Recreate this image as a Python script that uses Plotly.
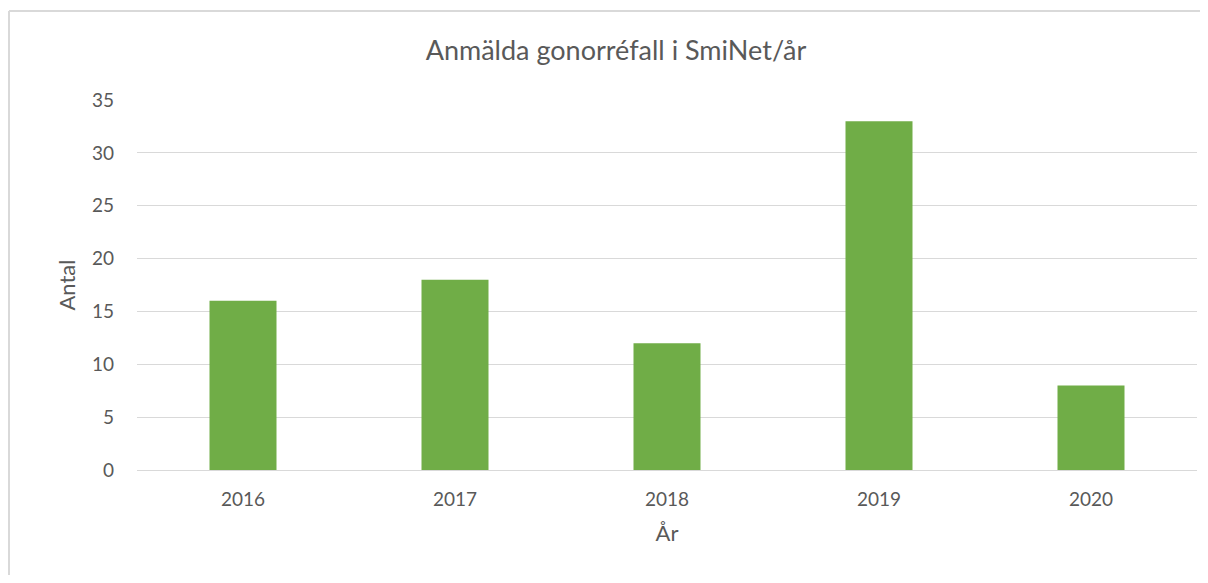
import plotly.graph_objects as go

# Data
years = ['2016', '2017', '2018', '2019', '2020']
counts = [16, 18, 12, 33, 8]
y_ticks = [0, 5, 10, 15, 20, 25, 30, 35]

FONT = 'Lato, Calibri, Carlito, sans-serif'
GREY_TEXT = '#595959'
GRID = '#d9d9d9'

fig = go.Figure()

fig.add_trace(go.Bar(
    x=years,
    y=counts,
    marker=dict(color='#70ad47', line=dict(width=0)),
    showlegend=False,
    hoverinfo='x+y'
))

# the page body has an 8px margin on each side, so the figure is 16px smaller
# (no scrollbars) and everything is placed relative to that offset
W, H = 1192, 567
border_x = -128 / 1060
border_y = 1 + 89 / 370

fig.update_layout(
    width=W,
    height=H,
    margin=dict(l=129, r=3, t=92, b=105),
    plot_bgcolor='white',
    paper_bgcolor='white',
    font=dict(family=FONT, color=GREY_TEXT, size=19),
    title=dict(
        text='Anmälda gonorréfall i SmiNet/år',
        x=(616 - 8) / W, xanchor='center',
        y=1 - (51 - 8) / H, yanchor='middle',
        font=dict(size=27, color=GREY_TEXT, family=FONT)
    ),
    bargap=0.684,
    xaxis=dict(
        type='category',
        showgrid=False,
        zeroline=False,
        showline=False,
        ticks='',
        ticklabelstandoff=16,
        tickfont=dict(size=19),
        title=dict(text='År', font=dict(size=22), standoff=16)
    ),
    yaxis=dict(
        range=[0, 35],
        tickvals=y_ticks,
        showgrid=True,
        gridcolor=GRID,
        gridwidth=1,
        zeroline=True,
        zerolinecolor=GRID,
        zerolinewidth=1,
        ticks='',
        ticklabelstandoff=22,
        tickfont=dict(size=19),
        title=dict(text='Antal', font=dict(size=22), standoff=10)
    ),
    # chart-area border: only the left and top edges show in the picture
    shapes=[
        dict(type='line', xref='paper', yref='paper',
             x0=border_x, x1=border_x, y0=-0.5, y1=border_y,
             line=dict(color=GRID, width=2), layer='below'),
        dict(type='line', xref='paper', yref='paper',
             x0=border_x, x1=1.2, y0=border_y, y1=border_y,
             line=dict(color=GRID, width=2), layer='below'),
    ]
)

fig.write_html("out.html")
